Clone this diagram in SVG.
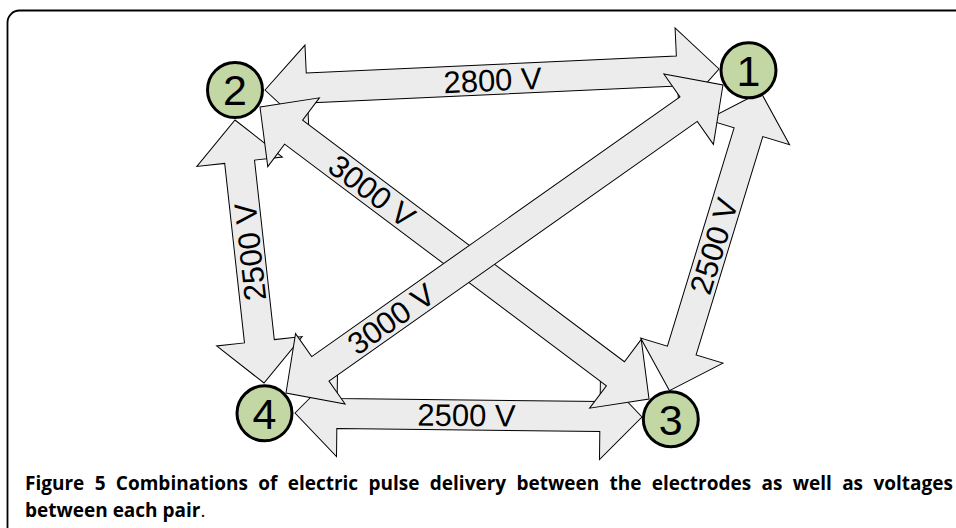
<svg xmlns="http://www.w3.org/2000/svg" width="956" height="528" viewBox="0 0 956 528">
<style>
.arrow{fill:#ececec;stroke:#000;stroke-width:1;stroke-linejoin:miter}
.lbl{font-family:"Liberation Sans",Arial,sans-serif;font-size:31px;fill:#000;text-anchor:middle}
.node circle{fill:#c3d7a4;stroke:#000;stroke-width:3}
.num{font-family:"Liberation Sans",Arial,sans-serif;font-size:43px;fill:#000;text-anchor:middle}
.cap{font-family:"Open Sans","Noto Sans",sans-serif;font-size:19px;fill:#000}
</style>
<rect x="7.5" y="10.5" width="1100" height="800" rx="12" ry="12" fill="none" stroke="#000" stroke-width="1.8"/>
<g id="connectors">
  <g id="edge-2-1">
    <polygon class="arrow" transform="translate(265,90) rotate(-2.65)" points="0,0 42,-43 42,-15 412.5,-15 412.5,-43 454.5,0 412.5,43 412.5,15 42,15 42,43"/>
    <text class="lbl" transform="translate(492.5,80) rotate(-2.65)" x="0" y="11">2800 V</text>
  </g>
  <g id="edge-2-4">
    <polygon class="arrow" transform="translate(235,120) rotate(83.71)" points="0,0 42,-43 42,-15 222.6,-15 222.6,-43 264.6,0 222.6,43 222.6,15 42,15 42,43"/>
    <text class="lbl" transform="translate(250,252) rotate(-96.3)" x="0" y="11">2500 V</text>
  </g>
  <g id="edge-4-3">
    <polygon class="arrow" transform="translate(295,413) rotate(0.66)" points="0,0 42,-43 42,-15 305,-15 305,-43 347,0 305,43 305,15 42,15 42,43"/>
    <text class="lbl" transform="translate(466.5,415) rotate(0.66)" x="0" y="11">2500 V</text>
  </g>
  <g id="edge-3-1">
    <polygon class="arrow" transform="translate(669.5,390.7) rotate(-73.02)" points="0,0 42,-43 42,-15 270.3,-15 270.3,-43 312.3,0 270.3,43 270.3,15 42,15 42,43"/>
    <text class="lbl" transform="translate(713.7,246) rotate(-73.02)" x="0" y="11">2500 V</text>
  </g>
  <g id="edge-2-3">
    <polygon class="arrow" transform="translate(260,107) rotate(36.89)" points="0,0 42,-43 42,-15 444.4,-15 444.4,-43 486.4,0 444.4,43 444.4,15 42,15 42,43"/>
    <text class="lbl" transform="translate(372,191) rotate(36.89)" x="0" y="11">3000 V</text>
  </g>
  <g id="edge-1-4">
    <polygon class="arrow" transform="translate(286,393) rotate(-35.18)" points="0,0 42,-43 42,-15 492.6,-15 492.6,-43 534.6,0 492.6,43 492.6,15 42,15 42,43"/>
    <text class="lbl" transform="translate(391,319) rotate(-35.18)" x="0" y="11">3000 V</text>
  </g>
</g>
<g id="node-1" class="node"><circle cx="748.5" cy="70.3" r="27.5"/><text class="num" x="748.5" y="85.5">1</text></g>
<g id="node-2" class="node"><circle cx="235" cy="90" r="27.5"/><text class="num" x="235" y="105">2</text></g>
<g id="node-3" class="node"><circle cx="670.8" cy="419.2" r="27.5"/><text class="num" x="670.8" y="434.5">3</text></g>
<g id="node-4" class="node"><circle cx="264.5" cy="413.3" r="27.5"/><text class="num" x="264.5" y="428.5">4</text></g>
<g id="caption">
  <text class="cap" x="25" y="490" font-weight="bold" word-spacing="5.4">Figure 5 Combinations of electric pulse delivery between the electrodes as well as voltages</text>
  <text class="cap" x="25" y="517"><tspan font-weight="bold">between each pair</tspan>.</text>
</g>
</svg>
